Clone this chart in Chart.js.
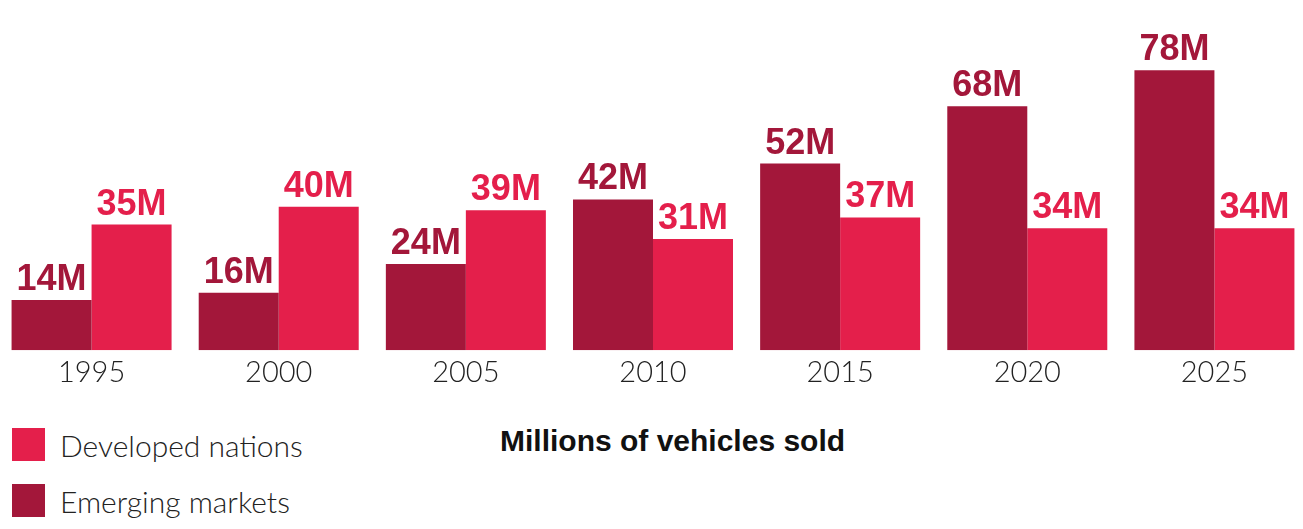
<!DOCTYPE html>
<html>
<head>
<meta charset="utf-8">
<script src="https://cdn.jsdelivr.net/npm/chart.js@4/dist/chart.umd.min.js"></script>
<style>
  html, body { margin: 0; padding: 0; background: #fff; width: 1303px; height: 529px; overflow: hidden; position: relative; }
  #wrap { position: absolute; left: -2px; top: 0; width: 1310px; height: 395px; }
  .legend { position: absolute; left: 12px; top: 428px; font-family: Lato, sans-serif; font-weight: 300; font-size: 30px; color: #222; }
  .legend .item { display: flex; align-items: center; height: 33px; margin-bottom: 23px; }
  .legend .sw { width: 33px; height: 33px; margin-right: 15px; flex: none; }
  .title { position: absolute; left: 500px; top: 424px; font-family: "Liberation Sans", Arial, sans-serif; font-weight: bold; font-size: 30px; line-height: 34px; color: #111; white-space: nowrap; }
</style>
</head>
<body>
<div id="wrap"><canvas id="c"></canvas></div>
<div class="legend" id="legend"></div>
<div class="title" id="title"></div>
<script>
const years = ["1995", "2000", "2005", "2010", "2015", "2020", "2025"];
const emerging = [14, 16, 24, 42, 52, 68, 78];
const developed = [35, 40, 39, 31, 37, 34, 34];
const seriesNames = ["Emerging markets", "Developed nations"];
const titleText = "Millions of vehicles sold";
const unitSuffix = "M";

const darkRed = "#A3173A";
const brightRed = "#E41F4B";

const labelPlugin = {
  id: "barLabels",
  afterDatasetsDraw(chart) {
    const ctx = chart.ctx;
    ctx.save();
    ctx.font = "bold 36px 'Liberation Sans', Arial, sans-serif";
    ctx.textAlign = "center";
    ctx.textBaseline = "alphabetic";
    chart.data.datasets.forEach((ds, di) => {
      const meta = chart.getDatasetMeta(di);
      meta.data.forEach((bar, i) => {
        ctx.fillStyle = ds.backgroundColor;
        ctx.fillText(ds.data[i] + unitSuffix, bar.x, bar.y - 10);
      });
    });
    ctx.restore();
  }
};

const chart = new Chart(document.getElementById("c"), {
  type: "bar",
  data: {
    labels: years,
    datasets: [
      { label: seriesNames[0], data: emerging, backgroundColor: darkRed },
      { label: seriesNames[1], data: developed, backgroundColor: brightRed }
    ]
  },
  options: {
    responsive: true,
    maintainAspectRatio: false,
    animation: false,
    layout: { padding: 0 },
    plugins: { legend: { display: false }, tooltip: { enabled: false } },
    datasets: { bar: { categoryPercentage: 0.855, barPercentage: 1.0, borderWidth: 0 } },
    scales: {
      x: {
        grid: { display: false, drawTicks: false },
        border: { display: false },
        ticks: { color: "#222", font: { family: "Lato", weight: 300, size: 29 }, padding: 5 }
      },
      y: { display: false, min: 0, max: 97.6 }
    }
  },
  plugins: [labelPlugin]
});

// HTML legend & title
const legend = document.getElementById("legend");
[[seriesNames[1], brightRed], [seriesNames[0], darkRed]].forEach(([name, col]) => {
  const it = document.createElement("div");
  it.className = "item";
  const sw = document.createElement("div");
  sw.className = "sw";
  sw.style.background = col;
  const tx = document.createElement("span");
  tx.textContent = name;
  it.appendChild(sw); it.appendChild(tx);
  legend.appendChild(it);
});
document.getElementById("title").textContent = titleText;
</script>
</body>
</html>
